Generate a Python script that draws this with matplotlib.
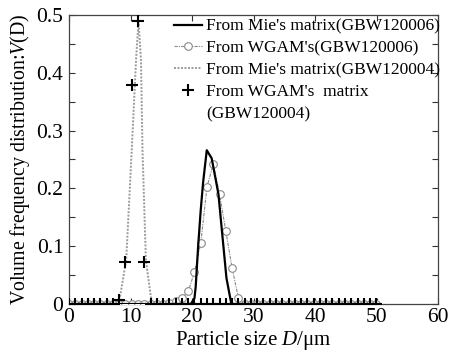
import matplotlib
matplotlib.use("Agg")
import matplotlib.pyplot as plt
from matplotlib.ticker import MultipleLocator, FuncFormatter
from matplotlib.lines import Line2D

plt.rcParams['font.family'] = ['Liberation Serif', 'DejaVu Serif']
plt.rcParams['mathtext.fontset'] = 'custom'
plt.rcParams['mathtext.rm'] = 'Liberation Serif'
plt.rcParams['mathtext.it'] = 'Liberation Serif:italic'

# Discrete size grid (µm) used by the WGAM results
sizes = [0.0, 1.02, 2.04, 3.06, 4.08, 5.10, 6.12, 7.14, 8.16, 9.18,
         10.20, 11.22, 12.24, 13.26, 14.28, 15.30, 16.32, 17.34, 18.36, 19.38,
         20.40, 21.42, 22.44, 23.46, 24.48, 25.50, 26.52, 27.54, 28.56, 29.58,
         30.60, 31.62, 32.64, 33.66, 34.68, 35.70, 36.72, 37.74, 38.76, 39.78,
         40.80, 41.82, 42.84, 43.86, 44.88, 45.90, 46.92, 47.94, 48.96, 49.98]

wgam_006 = [0, 0, 0, 0, 0, 0, 0, 0, 0, 0,
            0, 0, 0, 0, 0, 0, 0.002, 0.005, 0.010, 0.022,
            0.055, 0.105, 0.203, 0.242, 0.190, 0.126, 0.062, 0.011, 0, 0,
            0, 0, 0, 0, 0, 0, 0, 0, 0, 0,
            0, 0, 0, 0, 0, 0, 0, 0, 0, 0]

wgam_004 = [0, 0, 0, 0, 0, 0, 0, 0, 0.007, 0.073,
            0.378, 0.490, 0.072, 0, 0, 0, 0, 0, 0, 0,
            0, 0, 0, 0, 0, 0, 0, 0, 0, 0,
            0, 0, 0, 0, 0, 0, 0, 0, 0, 0,
            0, 0, 0, 0, 0, 0, 0, 0, 0, 0]

# Mie-matrix inversions (continuous curves)
mie006_x = [0, 19.8, 20.4, 20.6, 21.0, 21.4, 21.8, 22.4, 23.2, 24.3, 24.8, 25.6, 26.4, 50.3]
mie006_y = [0, 0, 0.010, 0.030, 0.100, 0.160, 0.210, 0.266, 0.252, 0.190, 0.134, 0.045, 0, 0]

mie004_x = [0, 7.8, 8.3, 9.3, 10.2, 10.9, 11.3, 11.7, 11.95, 12.5, 13.3, 13.6, 50.0]
mie004_y = [0, 0, 0.013, 0.076, 0.266, 0.422, 0.490, 0.422, 0.266, 0.076, 0.013, 0, 0]

labels = ["From Mie's matrix(GBW120006)",
          "From WGAM's(GBW120006)",
          "From Mie's matrix(GBW120004)",
          "From WGAM's  matrix",
          "(GBW120004)"]

fig = plt.figure(figsize=(4.49, 3.56), dpi=100)
ax = fig.add_axes([0.1537, 0.146, 0.8218, 0.812])

l3, = ax.plot(mie004_x, mie004_y, color='#9a9a9a', lw=1.4, linestyle=(0, (1, 0.8)), zorder=2)
l2, = ax.plot(sizes, wgam_006, color='#8a8a8a', lw=0.8, linestyle=(0, (3, 1, 1, 1)),
              marker='o', ms=5.5, mfc='white', mec='#8a8a8a', mew=0.8, zorder=3)
l1, = ax.plot(mie006_x, mie006_y, color='black', lw=1.6, zorder=4)
l4, = ax.plot(sizes, wgam_004, linestyle='none', marker='+', ms=8, mew=1.5,
              color='black', zorder=5)
blank = Line2D([], [], linestyle='none', marker=None)

ax.set_xlim(0, 60)
ax.set_ylim(0, 0.5)
ax.xaxis.set_major_locator(MultipleLocator(10))
ax.yaxis.set_major_locator(MultipleLocator(0.1))
ax.yaxis.set_minor_locator(MultipleLocator(0.05))
ax.yaxis.set_major_formatter(FuncFormatter(lambda v, p: '0' if abs(v) < 1e-9 else f'{v:.1f}'))
ax.tick_params(which='both', direction='in', top=True, right=True, labelsize=15.5,
               width=0.8, colors='#333333', labelcolor='black')
ax.tick_params(which='major', length=4)
ax.tick_params(which='minor', length=4)
ax.tick_params(axis='x', pad=3)
ax.tick_params(axis='y', pad=4)
for s in ax.spines.values():
    s.set_linewidth(0.9)
    s.set_color('#444444')

ax.set_xlabel('Particle size $D$/μm', fontsize=15, labelpad=1)
ax.set_ylabel('Volume frequency distribution:$V$(D)', fontsize=14.3, labelpad=3)

leg = fig.legend([l1, l2, l3, l4, blank], labels, loc='upper left',
                 bbox_to_anchor=(0.387, 0.948), frameon=False, fontsize=12.5,
                 handlelength=1.65, handletextpad=0.2, labelspacing=0.33,
                 borderaxespad=0, borderpad=0)

fig.savefig('out.png', dpi=100)
